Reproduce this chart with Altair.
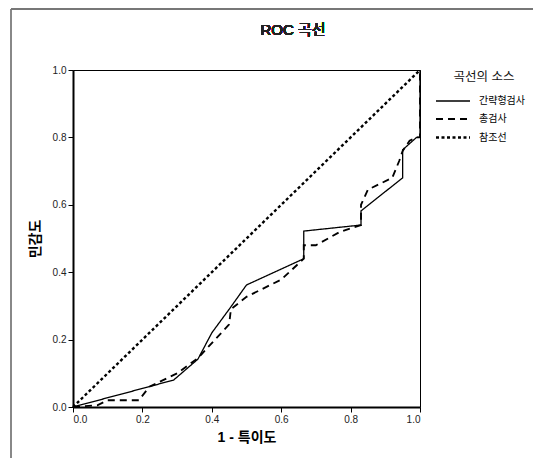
import altair as alt
import pandas as pd

series_names = ["간략형검사", "총검사", "참조선"]

solid_x = [0.0, 0.20, 0.29, 0.36, 0.40, 0.45, 0.50, 0.665, 0.665, 0.83, 0.83, 0.95, 0.95, 0.99, 1.0, 1.0]
solid_y = [0.0, 0.055, 0.08, 0.142, 0.22, 0.29, 0.362, 0.44, 0.522, 0.54, 0.582, 0.68, 0.763, 0.80, 0.80, 1.0]

dashed_x = [0.0, 0.07, 0.10, 0.19, 0.22, 0.30, 0.36, 0.45, 0.455, 0.50, 0.60, 0.665, 0.665, 0.70,
            0.77, 0.83, 0.83, 0.85, 0.89, 0.92, 0.94, 0.95, 0.97, 0.99, 1.0, 1.0]
dashed_y = [0.0, 0.005, 0.02, 0.02, 0.06, 0.10, 0.145, 0.245, 0.29, 0.327, 0.378, 0.44, 0.48, 0.48,
            0.52, 0.54, 0.60, 0.645, 0.665, 0.68, 0.73, 0.76, 0.79, 0.80, 0.80, 1.0]

ref_x = [0.0, 1.0]
ref_y = [0.0, 1.0]

x_ticks = [0.0, 0.2, 0.4, 0.6, 0.8, 1.0]
y_ticks = [0.0, 0.2, 0.4, 0.6, 0.8, 1.0]

chart_title = "ROC 곡선"

rows = []
for name, xs, ys in zip(series_names, [solid_x, dashed_x, ref_x], [solid_y, dashed_y, ref_y]):
    for i, (xv, yv) in enumerate(zip(xs, ys)):
        rows.append({"series": name, "x": xv, "y": yv, "order": i})
df = pd.DataFrame(rows)

FONT = "Liberation Sans, Noto Sans CJK KR, sans-serif"

lines = alt.Chart(df).mark_line(color="black", clip=False).encode(
    x=alt.X("x:Q", scale=alt.Scale(domain=[0, 1], nice=False),
            axis=alt.Axis(values=x_ticks, format=".1f", title="1 - 특이도", grid=False,
                          domainColor="black", domainWidth=2, tickColor="black", tickSize=5,
                          labelFontSize=10, labelColor="#222", labelFont=FONT,
                          titleFontSize=14, titleFontWeight="bold", titleFont=FONT,
                          titlePadding=6, titleColor="black")),
    y=alt.Y("y:Q", scale=alt.Scale(domain=[0, 1], nice=False),
            axis=alt.Axis(values=y_ticks, format=".1f", title="민감도", grid=False,
                          domainColor="black", domainWidth=2, tickColor="black", tickSize=5,
                          labelFontSize=10, labelColor="#222", labelFont=FONT,
                          titleFontSize=14, titleFontWeight="bold", titleFont=FONT,
                          titlePadding=10, titleColor="black")),
    order="order:Q",
    strokeDash=alt.StrokeDash("series:N",
                              scale=alt.Scale(domain=series_names, range=[[1, 0], [7, 5], [3, 2.5]]),
                              legend=alt.Legend(title="곡선의 소스", orient="none", legendX=370, legendY=1,
                                                symbolType="M-2,0L2,0", symbolSize=289,
                                                symbolStrokeColor="black",
                                                titleFont=FONT, titleFontSize=12.5, titleFontWeight="normal",
                                                titleAnchor="middle", titlePadding=8, titleColor="#111",
                                                labelFont=FONT, labelFontSize=10, labelColor="black",
                                                rowPadding=3, labelOffset=16)),
    strokeWidth=alt.StrokeWidth("series:N",
                                scale=alt.Scale(domain=series_names, range=[1.3, 2.4, 0.8]),
                                legend=None),
    strokeOpacity=alt.StrokeOpacity("series:N",
                                    scale=alt.Scale(domain=series_names, range=[1, 1, 0.7]),
                                    legend=None),
)

frame_left = alt.Chart(df).mark_rule(color="#888", strokeWidth=2, clip=False).encode(
    x=alt.value(-62), y=alt.value(-61), y2=alt.value(420)
)
frame_top = alt.Chart(df).mark_rule(color="#777", strokeWidth=1.5, clip=False).encode(
    x=alt.value(-62), x2=alt.value(470), y=alt.value(-61)
)
title_text = alt.Chart(df).mark_text(font=FONT, fontSize=15, fontWeight=400, color="#222",
                                     align="center", baseline="middle").encode(
    x=alt.value(220), y=alt.value(-40), text=alt.value(chart_title)
)

chart = (frame_left + frame_top + title_text + lines).properties(
    width=347, height=337,
    autosize=alt.AutoSizeParams(type="none"),
    padding={"left": 65, "top": 62, "right": 113, "bottom": 51},
).configure(background="white", view=alt.ViewConfig(stroke="black", strokeWidth=1))

chart.save("out.html", embed_options={"renderer": "svg", "actions": False})
